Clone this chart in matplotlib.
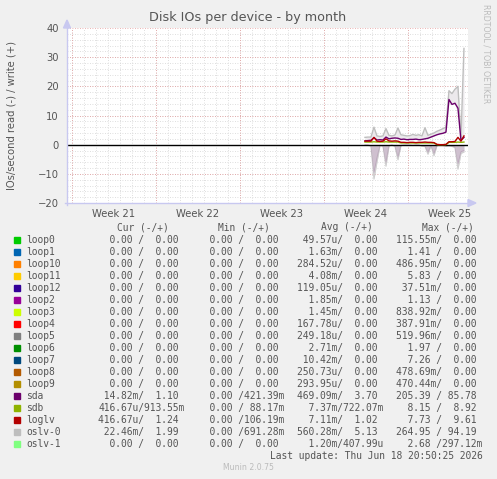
import numpy as np
import matplotlib
matplotlib.use('Agg')
import matplotlib.pyplot as plt

W, H = 497, 479

# sample times in days from left edge of the graph (6h steps)
t = 24.83 + 0.25 * np.arange(34)

sda_write = [1.3, 1.4, 1.5, 2.4, 1.6, 1.7, 1.6, 2.6, 2.0, 2.2, 2.3, 2.2,
             1.8, 1.9, 1.7, 1.8, 1.8, 1.9, 1.7, 1.8, 2.0, 2.2, 2.6, 3.0,
             3.4, 3.7, 3.9, 4.3, 15.5, 13.8, 14.2, 12.5, 1.5, 2.5]
oslv0_write = [2.5, 2.6, 2.6, 6.0, 3.0, 2.8, 3.0, 5.5, 3.2, 3.0, 3.3, 5.7,
               3.4, 3.2, 3.0, 3.1, 3.5, 3.2, 3.4, 3.0, 5.8, 3.2, 3.6, 4.0,
               4.6, 5.0, 5.5, 6.0, 18.5, 17.5, 19.0, 20.0, 2.5, 33.0]
loglv_write = [1.2, 1.2, 1.2, 2.5, 1.2, 1.1, 1.2, 2.0, 1.3, 1.2, 1.3, 1.2,
               0.8, 0.8, 0.7, 0.8, 0.8, 0.7, 0.8, 0.8, 0.9, 0.8, 0.8, 0.7,
               0.1, 0.0, 0.0, 0.1, 1.0, 1.0, 1.1, 2.5, 1.2, 3.0]
sdb_write = [0.9, 0.9, 0.9, 1.0, 0.9, 0.9, 0.9, 1.0, 0.9, 0.9, 0.9, 0.9,
             0.6, 0.6, 0.6, 0.6, 0.6, 0.6, 0.6, 0.6, 0.6, 0.6, 0.6, 0.6,
             0.0, 0.0, 0.0, 0.0, 0.8, 0.8, 0.8, 0.9, 0.8, 0.9]
oslv0_read = [-0.2, -0.2, -0.5, -11.8, -6.0, -0.3, -0.5, -7.4, -0.4, -0.2, -0.6, -5.2,
              -0.3, -0.2, -0.2, -0.2, -0.3, -0.2, -0.2, -0.5, -0.6, -3.3, -0.4, -3.8,
              -0.3, -0.2, -0.3, -0.5, -0.4, -0.6, -1.0, -8.4, -3.0, -2.5]
sda_read = [-0.1, -0.1, -0.4, -9.5, -4.5, -0.2, -0.4, -6.0, -0.3, -0.1, -0.4, -4.2,
            -0.2, -0.1, -0.1, -0.1, -0.2, -0.1, -0.1, -0.4, -0.5, -2.6, -0.3, -3.0,
            -0.2, -0.1, -0.2, -0.4, -0.3, -0.5, -0.8, -6.5, -2.4, -2.0]

week_labels = ['Week 21', 'Week 22', 'Week 23', 'Week 24', 'Week 25']
week_starts = [0.39, 7.39, 14.39, 21.39, 28.39]

names = ['loop0', 'loop1', 'loop10', 'loop11', 'loop12', 'loop2', 'loop3',
         'loop4', 'loop5', 'loop6', 'loop7', 'loop8', 'loop9', 'sda', 'sdb',
         'loglv', 'oslv-0', 'oslv-1']
colors = ['#00CC00', '#0066B3', '#FF8000', '#FFCC00', '#330099', '#990099',
          '#CCFF00', '#FF0000', '#808080', '#008F00', '#00487D', '#B35A00',
          '#B38F00', '#6B006B', '#8FB300', '#B30000', '#BEBEBE', '#80FF80']
cur = ['  0.00 /  0.00 '] * 13 + [' 14.82m/  1.10 ', '416.67u/913.55m',
       '416.67u/  1.24 ', ' 22.46m/  1.99 ', '  0.00 /  0.00 ']
mins = ['  0.00 /  0.00 '] * 13 + ['  0.00 /421.39m', '  0.00 / 88.17m',
        '  0.00 /106.19m', '  0.00 /691.28m', '  0.00 /  0.00 ']
avgs = [' 49.57u/  0.00 ', '  1.63m/  0.00 ', '284.52u/  0.00 ', '  4.08m/  0.00 ',
        '119.05u/  0.00 ', '  1.85m/  0.00 ', '  1.45m/  0.00 ', '167.78u/  0.00 ',
        '249.18u/  0.00 ', '  2.71m/  0.00 ', ' 10.42m/  0.00 ', '250.73u/  0.00 ',
        '293.95u/  0.00 ', '469.09m/  3.70 ', '  7.37m/722.07m', '  7.11m/  1.02 ',
        '560.28m/  5.13 ', '  1.20m/407.99u']
maxs = ['115.55m/  0.00 ', '  1.41 /  0.00 ', '486.95m/  0.00 ', '  5.83 /  0.00 ',
        ' 37.51m/  0.00 ', '  1.13 /  0.00 ', '838.92m/  0.00 ', '387.91m/  0.00 ',
        '519.96m/  0.00 ', '  1.97 /  0.00 ', '  7.26 /  0.00 ', '478.69m/  0.00 ',
        '470.44m/  0.00 ', '205.39 / 85.78 ', '  8.15 /  8.92 ', '  7.73 /  9.61 ',
        '264.95 / 94.19 ', '  2.68 /297.12m']

fig = plt.figure(figsize=(W / 100, H / 100), dpi=100, facecolor='#F0F0F0')
x0, x1, y0, y1 = 67, 468, 28, 203
ax = fig.add_axes([x0 / W, 1 - y1 / H, (x1 - x0) / W, (y1 - y0) / H])
ax.set_facecolor('white')
ax.set_xlim(0, (x1 - x0) / 12)
ax.set_ylim(-20, 40)
for s in ax.spines.values():
  s.set_visible(False)

# grid
for d in np.arange(0.39, 33.4, 1.0):
  ax.axvline(d, color='#D4D4D4', lw=0.6, ls=(0, (1, 2)), zorder=0)
for v in np.arange(-18, 40, 2):
  ax.axhline(v, color='#D4D4D4', lw=0.6, ls=(0, (1, 2)), zorder=0)
for d in week_starts:
  ax.axvline(d, color='#E49A9A', lw=0.6, ls=(0, (1, 2)), zorder=0.5)
for v in range(-10, 41, 10):
  ax.axhline(v, color='#E49A9A', lw=0.6, ls=(0, (1, 2)), zorder=0.5)

ax.axhline(0, color='black', lw=1.0, zorder=2)

# reads (negative)
ax.fill_between(t, 0, oslv0_read, color='#DCD6DC', lw=0, zorder=1)
ax.fill_between(t, 0, sda_read, color='#B898B8', lw=0, alpha=0.35, zorder=1)
ax.plot(t, oslv0_read, color='#CFCFCF', lw=0.8, zorder=1.5)
ax.plot(t, sda_read, color='#A88CA8', lw=0.6, alpha=0.5, zorder=1.5)

# writes (positive)
ax.fill_between(t, sda_write, oslv0_write, color='#ECE9EC', lw=0, zorder=1)
ax.plot(t, oslv0_write, color='#BEBEBE', lw=1.0, zorder=3)
ax.plot(t, sda_write, color='#6B006B', lw=1.0, zorder=4)
ax.plot(t, sdb_write, color='#8FB300', lw=1.0, zorder=4)
ax.plot(t, loglv_write, color='#B30000', lw=1.0, zorder=5)

ax.set_yticks(range(-20, 41, 10))
ax.set_xticks([d + 3.5 for d in week_starts])
ax.set_xticklabels(week_labels)
ax.tick_params(length=0, labelsize=7.2, colors='#555555')
ax.tick_params(axis='y', pad=6)
ax.tick_params(axis='x', pad=4)

# axes with arrows
axc = '#C8C8F0'
fig.add_artist(plt.Line2D([x0 / W, x0 / W], [1 - (y1 + 2) / H, 1 - 22 / H],
                          color=axc, lw=1.0, transform=fig.transFigure))
fig.add_artist(plt.Line2D([(x0 - 2) / W, 472 / W], [1 - y1 / H, 1 - y1 / H],
                          color=axc, lw=1.0, transform=fig.transFigure))
fig.add_artist(plt.Polygon([[(x0 - 3.5) / W, 1 - 28 / H], [(x0 + 3.5) / W, 1 - 28 / H],
                            [x0 / W, 1 - 20 / H]], color=axc, transform=fig.transFigure))
fig.add_artist(plt.Polygon([[468 / W, 1 - (y1 - 3.5) / H], [468 / W, 1 - (y1 + 3.5) / H],
                            [476 / W, 1 - y1 / H]], color=axc, transform=fig.transFigure))

fig.text(248 / W, 1 - 18 / H, 'Disk IOs per device - by month', ha='center',
         va='center', fontsize=9.2, color='#555555')
fig.text(12 / W, 1 - 115 / H, 'IOs/second read (-) / write (+)', ha='center',
         va='center', rotation=90, fontsize=7.2, color='#555555')
fig.text(486 / W, 1 - 4 / H, 'RRDTOOL / TOBI OETIKER', ha='center', va='top',
         rotation=270, fontsize=5.6, color='#BBBBBB')

mono = dict(family='DejaVu Sans Mono', fontsize=6.9, color='#555555', va='center')
hy = 1 - 227.5 / H
fig.text(116.7 / W, hy, 'Cur (-/+)', **mono)
fig.text(218.3 / W, hy, 'Min (-/+)', **mono)
fig.text(321 / W, hy, 'Avg (-/+)', **mono)
fig.text(422 / W, hy, 'Max (-/+)', **mono)
for i, n in enumerate(names):
  ypx = 240 + 11.98 * i
  y = 1 - ypx / H
  fig.add_artist(plt.Rectangle((14 / W, 1 - (ypx + 3) / H), 6 / W, 6 / H,
                               color=colors[i], transform=fig.transFigure))
  fig.text(26.5 / W, y, n, **mono)
  fig.text(98.5 / W, y, cur[i], **mono)
  fig.text(197.8 / W, y, mins[i], **mono)
  fig.text(297 / W, y, avgs[i], **mono)
  fig.text(396 / W, y, maxs[i], **mono)

fig.text(482.5 / W, 1 - 456 / H, 'Last update: Thu Jun 18 20:50:25 2026',
         ha='right', **mono)
fig.text(248 / W, 1 - 468 / H, 'Munin 2.0.75', ha='center', va='center',
         fontsize=5.6, color='#BBBBBB')

fig.savefig('out.png', dpi=100, facecolor=fig.get_facecolor())
